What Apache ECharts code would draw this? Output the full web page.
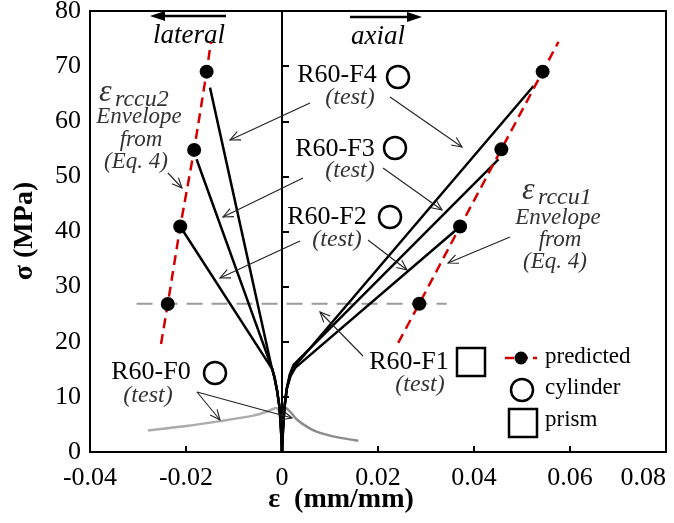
<!DOCTYPE html>
<html><head><meta charset="utf-8">
<script src="https://cdn.jsdelivr.net/npm/echarts@6/dist/echarts.min.js"></script>
<style>html,body{margin:0;padding:0;background:#fff}#c{width:674px;height:523px}</style>
</head><body><div id="c"></div><script>
// ---- data (strain mm/mm, stress MPa) ----
const latF2 = [[0,0],[-0.0002,4],[-0.0005,8],[-0.0010,11],[-0.0015,13.3],[-0.0020,15],[-0.0212,40.9]];
const latF3 = [[0,0],[-0.0002,4],[-0.0005,8],[-0.0010,11],[-0.0015,13.3],[-0.0020,15],[-0.0178,53.1]];
const latF4 = [[0,0],[-0.0002,4],[-0.0005,8],[-0.0010,11],[-0.0016,13.6],[-0.0022,15.5],[-0.0150,66.1]];
const axF2 = [[0,0],[0.0002,4],[0.0005,8],[0.0010,11.5],[0.0018,13.8],[0.0028,15.3],[0.0371,40.9]];
const axF3 = [[0,0],[0.0002,4],[0.0005,8],[0.0010,11.5],[0.0016,14],[0.0024,15.8],[0.0451,53.1]];
const axF4 = [[0,0],[0.0002,4],[0.0005,8],[0.0010,11.5],[0.0017,14],[0.0026,15.5],[0.0524,66.4]];
const f0Lat = [[0,0],[-0.0002,4],[-0.0005,7],[-0.0012,8.0],[-0.0032,7.3],[-0.0060,6.6],[-0.0129,5.6],[-0.0200,4.7],[-0.0279,3.9]];
const f0Ax = [[0,0],[0.0002,4],[0.0004,7],[0.0008,8.0],[0.0017,7.3],[0.0031,5.9],[0.0050,4.7],[0.0072,3.7],[0.0114,2.7],[0.0159,2.05]];
const predLat = [[-0.0238,26.85],[-0.0212,40.9],[-0.0183,54.8],[-0.0157,69.0]];
const predAx = [[0.0286,26.9],[0.0371,40.9],[0.0457,54.9],[0.0543,69.0]];
const envLat = [[-0.0252,19.6],[-0.0148,74.4]];
const envAx = [[0.0242,19.8],[0.0576,74.4]];
const refLine = [[-0.0303,26.9],[0.0343,26.9]];

const SERIF = "'Liberation Serif','DejaVu Serif',serif";
const chart = echarts.init(document.getElementById('c'), null, {renderer:'canvas'});

function blackLine(data){
  return {type:'line', data, symbol:'none', silent:true, z:4,
    lineStyle:{color:'#000', width:2.5}};
}
function arrow(x1,y1,x2,y2,len,half){
  len=len||11; half=half||0.42;
  const a=Math.atan2(y2-y1,x2-x1);
  const p1=[x2-len*Math.cos(a-half), y2-len*Math.sin(a-half)];
  const p2=[x2-len*Math.cos(a+half), y2-len*Math.sin(a+half)];
  return [
    {type:'line', shape:{x1,y1,x2,y2}, style:{stroke:'#222', lineWidth:1.1}, z:50},
    {type:'polyline', shape:{points:[p1,[x2,y2],p2]}, style:{stroke:'#222', lineWidth:1.1, fill:null}, z:50}
  ];
}
function bigArrow(x1,x2,y){
  const dir = x2>x1?1:-1;
  return [
    {type:'line', shape:{x1, y1:y, x2:x2-dir*12, y2:y}, style:{stroke:'#000', lineWidth:2.5}, z:50},
    {type:'polygon', shape:{points:[[x2,y],[x2-dir*15,y-5],[x2-dir*15,y+5]]}, style:{fill:'#000'}, z:50}
  ];
}
function txt(x,y,text,font,fill,align){
  return {type:'text', x, y, z:50, style:{text, font, fill:fill||'#000',
    textAlign:align||'left', textVerticalAlign:'middle', align:align||'left', verticalAlign:'middle'}};
}
function circ(cx,cy,r){
  return {type:'circle', shape:{cx,cy,r}, style:{stroke:'#000', lineWidth:2.5, fill:'#fff'}, z:50};
}
function sq(cx,cy,s){
  return {type:'rect', shape:{x:cx-s/2,y:cy-s/2,width:s,height:s}, style:{stroke:'#000', lineWidth:2.5, fill:'#fff'}, z:50};
}
const REG = "26px " + SERIF;
const IT = "italic 24px " + SERIF;
const GR = '#333';
let g = [];
g = g.concat(bigArrow(226,150,16), bigArrow(350,422,17));
g.push(txt(189,36,'lateral','italic 27px '+SERIF,'#000','center'));
g.push(txt(378,37,'axial','italic 27px '+SERIF,'#000','center'));
// test labels
g.push(txt(337,75,'R60-F4',REG,'#000','center'), circ(398,77,11), txt(350,98,'(test)',IT,GR,'center'));
g.push(txt(335,149,'R60-F3',REG,'#000','center'), circ(395,148,11), txt(350,171,'(test)',IT,GR,'center'));
g.push(txt(327,217,'R60-F2',REG,'#000','center'), circ(390,217,11), txt(337,240,'(test)',IT,GR,'center'));
g.push(txt(409,362,'R60-F1',REG,'#000','center'), sq(471,362,28), txt(420,385,'(test)',IT,GR,'center'));
g.push(txt(151,372,'R60-F0',REG,'#000','center'), circ(215,373,11), txt(148,396,'(test)',IT,GR,'center'));
// envelope text
g.push(txt(99,93,'ε','italic 32px '+SERIF,GR,'left'), txt(115,100,'rccu2','italic 24px '+SERIF,GR,'left'));
g.push(txt(139,117,'Envelope','italic 23px '+SERIF,GR,'center'));
g.push(txt(141,140,'from','italic 23px '+SERIF,GR,'center'));
g.push(txt(136,162,'(Eq. 4)','italic 23px '+SERIF,GR,'center'));
g.push(txt(522,191,'ε','italic 32px '+SERIF,GR,'left'), txt(538,198,'rccu1','italic 24px '+SERIF,GR,'left'));
g.push(txt(558,218,'Envelope','italic 23px '+SERIF,GR,'center'));
g.push(txt(560,240,'from','italic 23px '+SERIF,GR,'center'));
g.push(txt(555,262,'(Eq. 4)','italic 23px '+SERIF,GR,'center'));
// arrows
[[390,97,462,147],[383,168,442,210],[368,240,407,270],[310,103,230,140],[303,178,223,217],
 [300,241,220,278],[363,356,320,312],[197,392,220,420],[197,392,292,418],[168,173,182,188],[510,237,448,263]]
 .forEach(a=>{ g = g.concat(arrow(a[0],a[1],a[2],a[3])); });
// legend
g.push({type:'line', shape:{x1:505,y1:358,x2:537,y2:358}, style:{stroke:'#d40000', lineWidth:2.5, lineDash:[9,5]}, z:50});
g.push({type:'circle', shape:{cx:521,cy:358,r:6.5}, style:{fill:'#000'}, z:51});
g.push(txt(545,357,'predicted','23px '+SERIF,'#000','left'));
g.push(circ(522,390,11), txt(545,388,'cylinder','23px '+SERIF,'#000','left'));
g.push(sq(523,423,28), txt(545,420,'prism','23px '+SERIF,'#000','left'));
// axis titles
g.push({type:'text', x:25, y:231, rotation:Math.PI/2, z:50, style:{text:'σ (MPa)', font:'bold 28px '+SERIF, fill:'#000', textAlign:'center', textVerticalAlign:'middle', align:'center', verticalAlign:'middle'}});
g.push(txt(341,500,'ε  (mm/mm)','bold 28px '+SERIF,'#000','center'));

const option = {
  animation:false,
  backgroundColor:'#fff',
  grid:{left:90, right:8, top:11, bottom:71, containLabel:false, outerBoundsMode:'none',
    show:true, borderColor:'#000', borderWidth:2, backgroundColor:'transparent'},
  xAxis:{type:'value', min:-0.04, max:0.08, interval:0.02,
    axisLine:{onZero:false, lineStyle:{color:'#000', width:2}},
    axisTick:{inside:true, length:6, lineStyle:{color:'#000', width:2}},
    splitLine:{show:false},
    axisLabel:{fontFamily:SERIF, fontSize:26, color:'#000', margin:13, alignMaxLabel:'right',
      formatter:v=>Math.abs(v)<1e-9?'0':v.toFixed(2)}},
  yAxis:[
    {type:'value', min:0, max:80, interval:10, position:'left',
     axisLine:{show:true, onZero:false, lineStyle:{color:'#000', width:2}},
     axisTick:{show:false}, splitLine:{show:false},
     axisLabel:{fontFamily:SERIF, fontSize:26, color:'#000', margin:9}},
    {type:'value', min:0, max:80, interval:10, position:'left',
     axisLine:{show:true, onZero:true, lineStyle:{color:'#000', width:2}},
     axisTick:{show:true, inside:true, length:7, lineStyle:{color:'#000', width:2}},
     axisLabel:{show:false}, splitLine:{show:false}}
  ],
  series:[
    {type:'line', data:refLine, symbol:'none', silent:true, z:2, lineStyle:{color:'#9a9a9a', width:2, type:[16,9]}},
    {type:'line', data:f0Lat, symbol:'none', silent:true, z:3, smooth:0.3, lineStyle:{color:'#ababab', width:2.5}},
    {type:'line', data:f0Ax, symbol:'none', silent:true, z:3, smooth:0.3, lineStyle:{color:'#8c8c8c', width:2.5}},
    blackLine(latF2), blackLine(latF3), blackLine(latF4),
    blackLine(axF2), blackLine(axF3), blackLine(axF4),
    {type:'line', data:[envLat[0]].concat(predLat,[envLat[1]]), symbol:'none', silent:true, z:5, lineStyle:{color:'#d40000', width:2.5, type:[10,6]}},
    {type:'line', data:[envAx[0]].concat(predAx,[envAx[1]]), symbol:'none', silent:true, z:5, lineStyle:{color:'#d40000', width:2.5, type:[10,6]}},
    {type:'scatter', data:predLat.concat(predAx), symbol:'circle', symbolSize:14, silent:true, z:6, itemStyle:{color:'#000', opacity:1}}
  ],
  graphic:g
};
chart.setOption(option);
</script></body></html>
